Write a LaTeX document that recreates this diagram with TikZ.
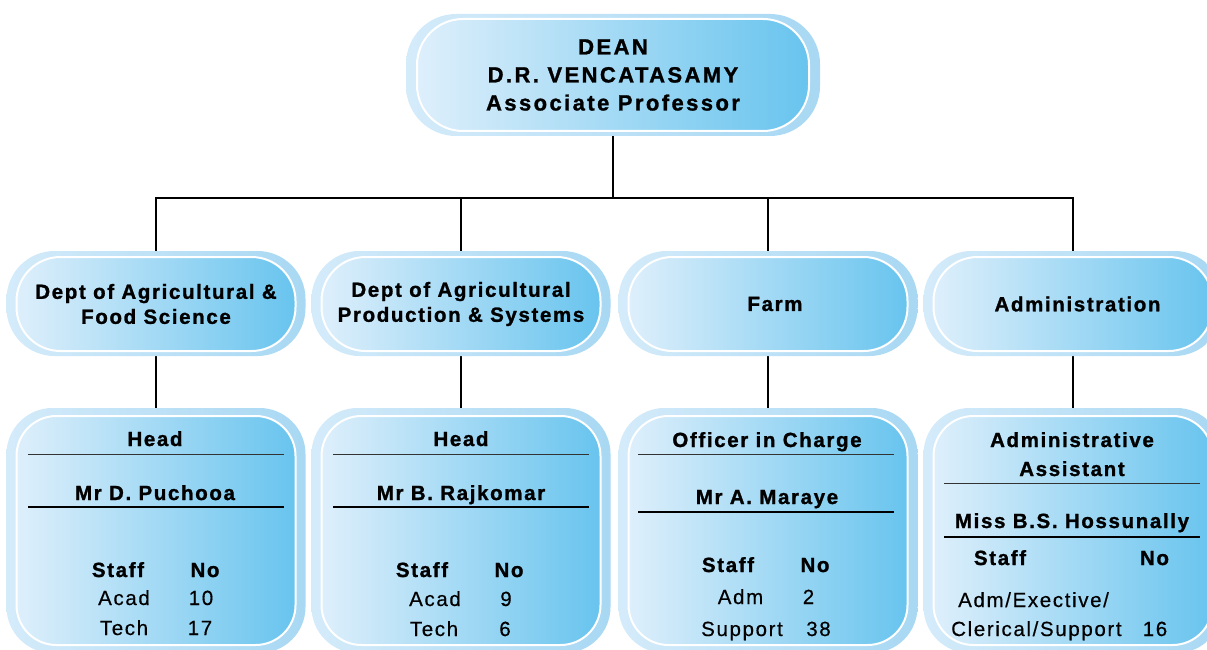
\documentclass[tikz,border=0pt]{standalone}
\usepackage{fontspec}
\setmainfont{Liberation Sans}[LetterSpace=8, FakeBold=0.4, BoldFeatures={FakeBold=1.2}]
\newfontfamily\deanfont{Liberation Sans}[LetterSpace=11, BoldFeatures={FakeBold=1.2}]
\pgfdeclarelayer{bg}
\pgfdeclarelayer{halolayer}
\pgfsetlayers{bg,halolayer,main}
\definecolor{boxL}{RGB}{222,239,251}
\definecolor{boxR}{RGB}{104,196,238}
\definecolor{haloL}{RGB}{212,235,250}
\definecolor{haloR}{RGB}{168,216,243}
\newcommand\mkhalo[5]{\shade[halofill, rounded corners=#5] ([shift={(-#2,#3)}]#1.north west) rectangle ([shift={(#2,-#4)}]#1.south east);}
\tikzset{
  box/.style={draw=white, line width=2pt, left color=boxL, right color=boxR, inner sep=0pt, align=center, text=black, font=\bfseries\fontsize{20.5}{25}\selectfont},
  halofill/.style={left color=haloL, right color=haloR},
  conn/.style={draw=black, line width=1.2pt},
  lbl/.style={anchor=base, inner sep=0pt, text=black, font=\bfseries\fontsize{20.5}{24}\selectfont},
  val/.style={anchor=base, inner sep=0pt, text=black, font=\fontsize{20.5}{24}\selectfont},
  rulethin/.style={draw=black!80, line width=1pt},
  rulethick/.style={draw=black, line width=2pt}
}
\begin{document}
\begin{tikzpicture}[x=1pt,y=-1pt]
\useasboundingbox (0,0) rectangle (1207,650);
\clip (0,0) rectangle (1207,650);
% main boxes
\node[box, minimum width=392pt, minimum height=112pt, rounded corners=46pt, font=\deanfont\bfseries\fontsize{22}{28}\selectfont] (dean) at (613,75) {DEAN\\D.R. VENCATASAMY\\Associate Professor};
\node[box, minimum width=279pt, minimum height=94pt, rounded corners=44pt] (d1) at (156,304) {Dept of Agricultural \&\\Food Science};
\node[box, minimum width=279pt, minimum height=94pt, rounded corners=44pt] (d2) at (461,304) {Dept of Agricultural\\Production \& Systems};
\node[box, minimum width=279pt, minimum height=94pt, rounded corners=44pt] (d3) at (768,304) {\hspace*{14pt}Farm};
\node[box, minimum width=279pt, minimum height=94pt, rounded corners=44pt] (d4) at (1073,304) {\hspace*{9pt}Administration};
\node[box, minimum width=279pt, minimum height=229pt, rounded corners=40pt] (b1) at (156,530.5) {};
\node[box, minimum width=279pt, minimum height=229pt, rounded corners=40pt] (b2) at (461,530.5) {};
\node[box, minimum width=279pt, minimum height=229pt, rounded corners=40pt] (b3) at (768,530.5) {};
\node[box, minimum width=279pt, minimum height=229pt, rounded corners=40pt] (b4) at (1073,530.5) {};
% halos
\begin{pgfonlayer}{halolayer}
\mkhalo{dean}{10pt}{4pt}{4pt}{50pt}
\mkhalo{d1}{9pt}{5pt}{4pt}{48pt}
\mkhalo{d2}{9pt}{5pt}{4pt}{48pt}
\mkhalo{d3}{9pt}{5pt}{4pt}{48pt}
\mkhalo{d4}{9pt}{5pt}{4pt}{48pt}
\mkhalo{b1}{9pt}{7pt}{7pt}{46pt}
\mkhalo{b2}{9pt}{7pt}{7pt}{46pt}
\mkhalo{b3}{9pt}{7pt}{7pt}{46pt}
\mkhalo{b4}{9pt}{7pt}{7pt}{46pt}
\end{pgfonlayer}
% connectors
\begin{pgfonlayer}{bg}
\coordinate (bus) at (613,198);
\draw[conn] (dean.south) -- (bus);
\draw[conn] (d1.north) -- (d1.north |- bus) -- (d4.north |- bus) -- (d4.north);
\draw[conn] (d2.north) -- (d2.north |- bus);
\draw[conn] (d3.north) -- (d3.north |- bus);
\draw[conn] (d1.south) -- (b1.north);
\draw[conn] (d2.south) -- (b2.north);
\draw[conn] (d3.south) -- (b3.north);
\draw[conn] (d4.south) -- (b4.north);
\end{pgfonlayer}
% box 1
\node[lbl] (h1) at (155,446) {Head};
\node[lbl] (n1) at (155,500) {Mr D. Puchooa};
\draw[rulethin] (28,454) -- (284,454);
\draw[rulethick] (28,507) -- (284,507);
\node[lbl] (s1) at (118,577) {Staff};
\node[lbl] (o1) at (205,577) {No};
\node[val] (a1) at (124,605) {Acad};
\node[val] (a1n) at (201,605) {10};
\node[val] (t1) at (124,635) {Tech};
\node[val] (t1n) at (200,635) {17};
% box 2
\node[lbl] (h2) at (461,446) {Head};
\node[lbl] (n2) at (461,500) {Mr B. Rajkomar};
\draw[rulethin] (333,454) -- (589,454);
\draw[rulethick] (333,507) -- (589,507);
\node[lbl] (s2) at (422,577) {Staff};
\node[lbl] (o2) at (509,577) {No};
\node[val] (a2) at (435,606) {Acad};
\node[val] (a2n) at (506,606) {9};
\node[val] (t2) at (434,636) {Tech};
\node[val] (t2n) at (505,636) {6};
% box 3
\node[lbl] (h3) at (767,447) {Officer in Charge};
\node[lbl] (n3) at (767,504) {Mr A. Maraye};
\draw[rulethin] (638,454) -- (894,454);
\draw[rulethick] (638,512) -- (894,512);
\node[lbl] (s3) at (728,572) {Staff};
\node[lbl] (o3) at (815,572) {No};
\node[val] (a3) at (740.5,604) {Adm};
\node[val] (a3n) at (808.5,604) {2};
\node[val] (t3) at (742,636) {Support};
\node[val] (t3n) at (818.5,636) {38};
% box 4
\node[lbl] (h4a) at (1072,447) {Administrative};
\node[lbl] (h4b) at (1072,476) {Assistant};
\draw[rulethin] (944,483) -- (1200,483);
\node[lbl] (n4) at (1072,528) {Miss B.S. Hossunally};
\draw[rulethick] (944,537) -- (1200,537);
\node[lbl] (s4) at (1000,565) {Staff};
\node[lbl] (o4) at (1154.5,565) {No};
\node[val, anchor=base west] (a4) at (958,607) {Adm/Exective/};
\node[val, anchor=base west] (t4) at (951,636) {Clerical/Support};
\node[val] (t4n) at (1155,636) {16};
\end{tikzpicture}
\end{document}
